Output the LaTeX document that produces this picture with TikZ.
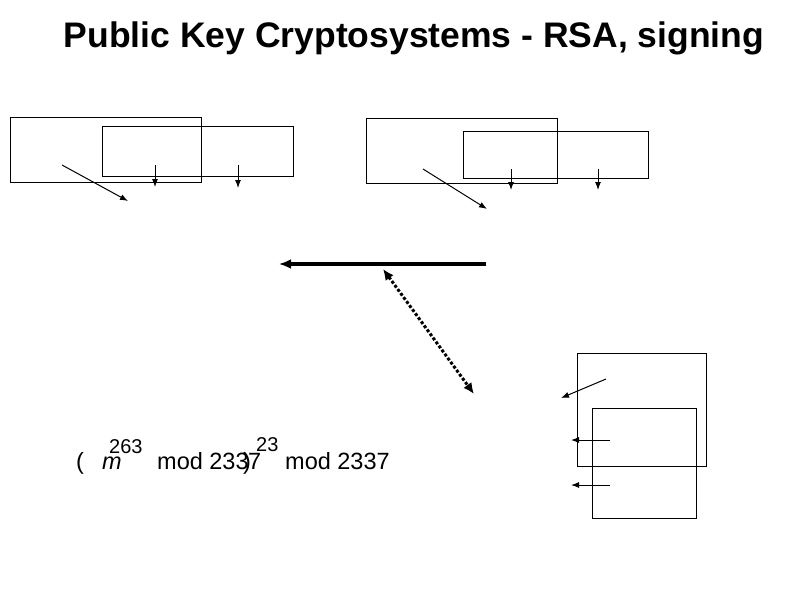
\documentclass[tikz,border=0pt]{standalone}
\usepackage{fontspec}
\setmainfont{Liberation Sans}
\usetikzlibrary{arrows.meta}
\begin{document}
\begin{tikzpicture}[x=1pt,y=-1pt,
  box/.style={draw,line width=0.8pt},
  arr/.style={-{Latex[length=8pt,width=6pt]},line width=1pt},
  t/.style={inner sep=0pt,anchor=base west,font=\fontsize{23.5}{28}\selectfont},
  sup/.style={inner sep=0pt,anchor=base west,font=\fontsize{20}{24}\selectfont}]
\useasboundingbox (0,0) rectangle (794,595);
\node[font=\bfseries\fontsize{35.5}{42}\selectfont] (title) at (414,38) {Public Key Cryptosystems - RSA, signing};
\draw[box] (10,117) rectangle (201,182);
\draw[box] (102,126) rectangle (293,176);
\draw[box] (366,118) rectangle (557,183);
\draw[box] (463,131) rectangle (648,178);
\draw[box] (577,353) rectangle (706,466);
\draw[box] (592,408) rectangle (696,518);
\draw[arr] (62,165) -- (128,201);
\draw[arr] (155,165) -- (155,187);
\draw[arr] (238,165) -- (238,188);
\draw[arr] (423,169) -- (487,209);
\draw[arr] (511,169) -- (511,190);
\draw[arr] (598,169) -- (598,190);
\draw[-{Latex[length=12pt,width=10pt]},line width=3.5pt] (486,264) -- (279,264);
\draw[{Latex[length=11pt,width=10pt]}-{Latex[length=11pt,width=10pt]},line width=3pt,dotted] (383,269) -- (474,394);
\draw[arr] (606,379) -- (561,398);
\draw[arr] (610,440) -- (571,440);
\draw[arr] (610,485) -- (571,485);
\node[t] (p1) at (76,469) {(};
\node[t] (m) at (102,469) {\itshape m};
\node[sup] (e1) at (109,453) {263};
\node[t] (mod1) at (157,469) {mod 233};
\node[t] (p2) at (243,469) {)};
\node[t] (seven) at (248,469) {7};
\node[sup] (e2) at (256,451) {23};
\node[t] (mod2) at (285,469) {mod 2337};
\end{tikzpicture}
\end{document}
